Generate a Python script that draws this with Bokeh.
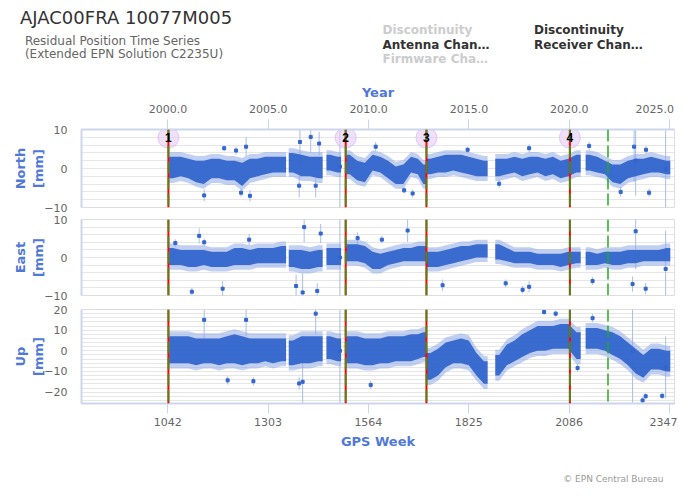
from bokeh.plotting import figure
from bokeh.layouts import column
from bokeh.models import (Range1d, LinearAxis, FixedTicker, SingleIntervalTicker,
                          PrintfTickFormatter, Span, LabelSet, Label, Legend,
                          LegendItem, ColumnDataSource)
from bokeh.embed import file_html
from bokeh.resources import INLINE

# ------------------------------------------------------------------ data
gps_ticks = [1042, 1303, 1564, 1825, 2086, 2347]
year_ticks = [2000, 2005, 2010, 2015, 2020, 2025]
week_min, week_max = 818, 2360

antenna_weeks = [1044, 1505, 1715, 2088]
receiver_weeks = [1044, 1505, 1715, 2088, 2187]
disc_weeks = [1044, 1505, 1715, 2088]
disc_labels = ["1", "2", "3", "4"]

# dense residual band, per time bin (GPS week)
bin_start = [1046, 1066, 1086, 1106, 1126, 1146, 1166, 1186, 1206, 1226, 1246, 1266, 1286, 1306, 1326,
             1357, 1379, 1401, 1423,
             1455, 1474,
             1506, 1525, 1545, 1565, 1585, 1605, 1625, 1645, 1665, 1685, 1700,
             1716, 1735, 1755, 1775, 1795, 1815, 1835, 1855,
             1894, 1914, 1934, 1954, 1974, 1994, 2014, 2034, 2054, 2074, 2094,
             2129, 2149, 2169, 2189, 2209, 2229, 2249, 2269, 2289, 2309, 2329]
bin_end = [1066, 1086, 1106, 1126, 1146, 1166, 1186, 1206, 1226, 1246, 1266, 1286, 1306, 1326, 1350,
           1379, 1401, 1423, 1445,
           1474, 1493,
           1525, 1545, 1565, 1585, 1605, 1625, 1645, 1665, 1685, 1700, 1714,
           1735, 1755, 1775, 1795, 1815, 1835, 1855, 1874,
           1914, 1934, 1954, 1974, 1994, 2014, 2034, 2054, 2074, 2094, 2116,
           2149, 2169, 2189, 2209, 2229, 2249, 2269, 2289, 2309, 2329, 2349]

north_lo = [-2.5, -2.0, -2.5, -3.5, -4.0, -2.5, -2.5, -3.0, -3.0, -4.5, -2.5, -2.0, -1.5, -1.0, -1.0,
            -1.0, -2.0, -2.0, -2.5,
            -0.5, -1.0,
            -1.5, -3.0, -3.5, -0.5, -1.0, -2.5, -4.0, -4.0, -1.0, -1.5, -4.0,
            -1.5, -1.0, -1.0, -0.5, -1.0, -1.5, -2.0, -2.0,
            -2.0, -1.5, -1.0, -2.0, -1.5, -1.0, -2.0, -1.5, -2.5, -2.0, -1.0,
            -0.5, -1.0, -1.5, -3.5, -4.0, -2.5, -2.0, -1.5, -1.0, -1.0, -1.5]
north_hi = [3.0, 3.0, 2.5, 2.0, 2.0, 2.5, 2.5, 2.0, 2.0, 1.5, 2.5, 2.5, 3.0, 3.0, 3.0,
            4.0, 3.5, 3.0, 3.0,
            3.5, 3.0,
            3.5, 2.0, 1.5, 3.5, 3.0, 2.0, 0.5, 1.0, 3.0, 2.5, 1.0,
            2.5, 3.0, 3.5, 3.5, 3.5, 3.0, 2.5, 2.0,
            2.5, 2.5, 3.0, 2.5, 3.0, 3.0, 2.5, 3.0, 2.0, 2.5, 3.5,
            3.5, 3.0, 2.0, 1.0, 1.0, 2.0, 2.5, 2.5, 3.0, 2.5, 2.0]

east_lo = [-2.0, -2.0, -2.5, -2.5, -2.0, -2.5, -2.5, -2.5, -2.0, -2.0, -2.0, -1.5, -1.5, -1.5, -1.5,
           -2.5, -3.0, -3.0, -2.5,
           -2.0, -2.0,
           -1.0, -1.0, -1.5, -3.0, -3.0, -2.0, -1.5, -1.0, -1.0, -1.0, -1.0,
           -2.5, -2.5, -2.0, -1.5, -1.0, -0.5, 0.0, 0.0,
           -0.5, -1.0, -1.5, -1.5, -1.5, -2.0, -2.0, -2.0, -2.5, -2.0, -1.5,
           -2.0, -2.0, -1.5, -2.0, -2.0, -1.5, -1.5, -1.0, -1.0, -1.0, -1.0]
east_hi = [2.5, 2.0, 2.0, 2.0, 2.0, 1.5, 1.5, 1.5, 2.5, 2.5, 2.0, 2.5, 2.5, 2.5, 3.0,
           2.0, 2.0, 1.5, 2.0,
           2.5, 2.5,
           3.5, 3.5, 3.0, 1.5, 1.0, 1.5, 2.0, 2.5, 2.5, 3.0, 3.0,
           1.5, 1.5, 2.0, 2.5, 3.0, 3.0, 3.5, 3.5,
           3.5, 2.5, 1.5, 1.5, 1.5, 1.0, 1.0, 1.0, 1.0, 1.5, 1.5,
           1.5, 1.0, 1.5, 1.5, 1.5, 2.0, 2.0, 2.0, 2.0, 2.0, 2.5]

up_lo = [-6, -6, -6, -7, -6, -6, -7, -6, -6, -7, -6, -6, -5, -6, -5,
         -7, -6, -6, -5,
         -4, -5,
         -6, -6, -7, -7, -6, -6, -5, -5, -5, -4, -3,
         -14, -12, -8, -6, -6, -7, -12, -16,
         -12, -7, -5, -3, -1, 0, 0, 1, 1, 1, -4,
         1, 1, 0, -2, -4, -7, -11, -13, -9, -9, -10]
up_hi = [7, 7, 7, 6, 6, 6, 6, 7, 8, 7, 6, 6, 6, 6, 6,
         5, 7, 7, 7,
         7, 6,
         7, 7, 6, 6, 6, 7, 7, 7, 8, 8, 9,
         -1, 1, 4, 5, 6, 5, -1, -5,
         -2, 3, 5, 8, 10, 12, 12, 12, 13, 13, 9,
         11, 11, 10, 9, 7, 4, 1, -2, 1, 1, 0]

# isolated points with formal errors (week, value mm, error mm)
north_out_w = [1137, 1233, 1256, 1246, 1189, 1220, 1384, 1386, 1414, 1427, 1436, 1490, 1583,
               1657, 1679, 1822, 1904, 1982, 2138, 2220, 2255, 2259, 2286, 2294, 2337]
north_out_v = [-6.9, -6.2, -7.0, 5.6, 5.2, 4.6, -4.4, 6.8, 8.1, -4.4, 6.4, 0.5, 5.6,
               -5.6, -6.4, 4.8, -3.9, 5.2, 5.8, -6.0, 5.6, 2.0, 4.8, -6.2, -0.2]
north_out_e = [1.5, 1.0, 1.5, 2.5, 0.8, 1.0, 3.0, 9.5, 4.0, 3.0, 3.0, 12.0, 1.2,
               0.8, 1.0, 0.8, 1.0, 1.0, 1.0, 1.2, 9.0, 9.0, 1.0, 1.0, 10.0]

east_out_w = [1062, 1105, 1124, 1137, 1185, 1254, 1376, 1393, 1397, 1431, 1440, 1490,
              1536, 1599, 1666, 1757, 1921, 1965, 1982, 2147, 2251, 2259, 2285, 2337]
east_out_v = [3.8, -9.0, 5.7, 4.0, -8.2, 4.7, -7.5, -9.2, 8.0, -8.8, 6.3, 0.0,
              5.1, 4.7, 7.1, -7.3, -6.8, -8.5, -7.7, -6.2, -7.0, 6.9, -8.2, -3.0]
east_out_e = [1.0, 1.0, 2.0, 1.0, 2.0, 1.5, 3.0, 5.0, 4.0, 2.0, 2.5, 12.0,
              1.5, 1.0, 3.0, 1.5, 1.0, 1.0, 1.5, 1.0, 2.0, 10.0, 1.5, 10.0]

up_out_w = [1137, 1198, 1246, 1265, 1384, 1393, 1427, 1490, 1570, 2021, 2051, 2108,
            2147, 2251, 2277, 2285, 2328, 2337]
up_out_v = [15.0, -14.3, 15.0, -14.7, -15.8, -15.0, 18.0, 0.0, -16.5, 18.8, 18.0, -8.3,
            15.8, 0.0, -24.0, -22.0, -21.8, -8.0]
up_out_e = [9.0, 2.0, 8.0, 2.0, 3.0, 20.0, 10.0, 30.0, 2.0, 1.5, 1.5, 2.0,
            2.0, 25.0, 1.5, 1.5, 1.5, 15.0]

# ------------------------------------------------------------------ style
FONT = "DejaVu Sans"
W = 684
LEFT = 81
RIGHT = 10
AXIS_BLUE = "#5078d8"
AXIS_LINE = "#ccd6eb"
GRID = "#e6e6e6"
DOT = "#3366cc"
HALO = "#8ea8e6"
ERR = "#a9bde9"
MARK_Y = 7.9


def year_of(week):
    return 1980 + (5 + 7 * week) / 365.25


xr = Range1d(week_min, week_max)


def segments():
    segs, cur = [], [0]
    for i in range(1, len(bin_start)):
        if bin_start[i] != bin_end[i - 1]:
            segs.append(cur)
            cur = [i]
        else:
            cur.append(i)
    segs.append(cur)
    return segs


def free_figure(height):
    f = figure(width=W, height=height, x_range=Range1d(0, 1), y_range=Range1d(0, 1),
               toolbar_location=None, output_backend="svg", title=None,
               min_border_left=0, min_border_right=0,
               min_border_top=0, min_border_bottom=0,
               x_axis_location=None, y_axis_location=None)
    f.frame_align = False
    f.grid.visible = False
    f.outline_line_color = None
    return f


def panel(height, ylo, yhi, mbt, mbb, label, lo, hi, ow, ov, oe, halo):
    p = figure(width=W, height=height, x_range=xr, y_range=Range1d(ylo, yhi),
               toolbar_location=None, output_backend="svg", title=None,
               min_border_left=LEFT, min_border_right=RIGHT,
               min_border_top=mbt, min_border_bottom=mbb,
               x_axis_location=None)
    p.outline_line_color = "#dddddd"
    p.xgrid.visible = False
    p.ygrid.grid_line_color = GRID
    p.ygrid.minor_grid_line_color = GRID
    ax = p.yaxis[0]
    ax.ticker = SingleIntervalTicker(interval=10, num_minor_ticks=5)
    ax.axis_line_color = AXIS_LINE
    ax.axis_line_width = 2
    ax.major_tick_line_color = None
    ax.minor_tick_line_color = None
    ax.major_tick_out = 0
    ax.major_tick_in = 0
    ax.minor_tick_out = 0
    ax.minor_tick_in = 0
    ax.major_label_text_color = "#666666"
    ax.major_label_text_font = FONT
    ax.major_label_text_font_size = "11px"
    ax.major_label_standoff = 14
    ax.axis_label = label
    ax.axis_label_text_font = FONT
    ax.axis_label_text_font_size = "13px"
    ax.axis_label_text_font_style = "bold"
    ax.axis_label_text_color = AXIS_BLUE
    ax.axis_label_standoff = -5

    # error bars of isolated points
    p.segment(x0=ow, x1=ow, y0=[v - e for v, e in zip(ov, oe)],
              y1=[v + e for v, e in zip(ov, oe)], line_color=ERR, line_width=1)
    # dense band with a lighter, scattered fringe
    for seg in segments():
        xs = [bin_start[seg[0]]] + [(bin_start[i] + bin_end[i]) / 2 for i in seg] + [bin_end[seg[-1]]]
        y1 = [lo[seg[0]]] + [lo[i] for i in seg] + [lo[seg[-1]]]
        y2 = [hi[seg[0]]] + [hi[i] for i in seg] + [hi[seg[-1]]]
        p.varea(x=xs, y1=[v - halo for v in y1], y2=[v + halo for v in y2],
                fill_color=HALO, fill_alpha=0.55)
        p.varea(x=xs, y1=y1, y2=y2, fill_color=DOT, fill_alpha=0.95)
    p.scatter(x=ow, y=ov, marker="square", size=3, fill_color=DOT, line_color=DOT)

    for w in antenna_weeks:
        p.add_layout(Span(location=w, dimension="height", line_color="#ff0000", line_width=2))
    for w in receiver_weeks:
        p.add_layout(Span(location=w, dimension="height", line_color="#22aa22",
                          line_width=2, line_dash="12 4", line_alpha=0.75))
    return p


# ------------------------------------------------------------------ header
HH = 76
hd = free_figure(HH)
hd.add_layout(Label(x=19.5, y=HH - 17.3, x_units="screen", y_units="screen",
                    text="AJAC00FRA 10077M005", text_font=FONT, text_font_size="18px",
                    text_color="#333333", text_baseline="middle"))
hd.add_layout(Label(x=24.4, y=HH - 40.2, x_units="screen", y_units="screen",
                    text="Residual Position Time Series", text_font=FONT,
                    text_font_size="12px", text_color="#666666", text_baseline="middle"))
hd.add_layout(Label(x=24.4, y=HH - 53.7, x_units="screen", y_units="screen",
                    text="(Extended EPN Solution C2235U)", text_font=FONT,
                    text_font_size="12px", text_color="#666666", text_baseline="middle"))

r_disc_line = hd.line(x=[], y=[], line_color="#e0e0e0", line_width=2)
r_ant = hd.line(x=[], y=[], line_color="#ff0000", line_width=2)
r_fw = hd.line(x=[], y=[], line_color="#d8d8d8", line_width=2, line_dash="5 3")
r_disc_pt = hd.scatter(x=[], y=[], size=6, fill_color="#e2c8f5", line_color=None)
r_rec = hd.line(x=[], y=[], line_color="#33bb33", line_width=2)


def add_legend(label, renderer, x, y, color):
    lg = Legend(items=[LegendItem(label=label, renderers=[renderer])],
                location=(x, y), orientation="vertical",
                label_text_font=FONT, label_text_font_size="12px",
                label_text_font_style="bold", label_text_color=color,
                glyph_width=16, glyph_height=15, label_height=15, label_standoff=5,
                spacing=0, padding=0, margin=0, border_line_color=None,
                background_fill_alpha=0)
    hd.add_layout(lg)


C1 = 361.5
C2 = 513
add_legend("Discontinuity", r_disc_line, C1, HH - 37.5, "#cccccc")
add_legend("Antenna Chan\u2026", r_ant, C1, HH - 52.0, "#333333")
add_legend("Firmware Cha\u2026", r_fw, C1, HH - 66.5, "#cccccc")
add_legend("Discontinuity", r_disc_pt, C2, HH - 37.5, "#333333")
add_legend("Receiver Chan\u2026", r_rec, C2, HH - 52.0, "#333333")

# ------------------------------------------------------------------ panels
pn = panel(137, -10, 10, 53, 6, "North\n[mm]", north_lo, north_hi,
           north_out_w, north_out_v, north_out_e, 1.2)
pe = panel(89, -10, 10, 6, 7, "East\n[mm]", east_lo, east_hi,
           east_out_w, east_out_v, east_out_e, 1.2)
pu = panel(156, -25.5, 20, 7, 55, "Up\n[mm]", up_lo, up_hi,
           up_out_w, up_out_v, up_out_e, 2.5)

# discontinuity markers
dsrc = ColumnDataSource(dict(x=disc_weeks, y=[MARK_Y] * len(disc_weeks), t=disc_labels))
pn.scatter(x="x", y="y", source=dsrc, size=21, fill_color="#e6ccf7", fill_alpha=0.6,
           line_color="#d9b8f0", line_alpha=0.7)
pn.add_layout(LabelSet(x="x", y="y", text="t", source=dsrc, text_align="center",
                       text_baseline="middle", text_font_size="12px",
                       text_font_style="bold", text_color="#000000"))


def style_x_axis(a, standoff, label_standoff):
    a.axis_line_color = AXIS_LINE
    a.axis_line_width = 2
    a.major_tick_line_color = AXIS_LINE
    a.major_tick_out = 10
    a.major_tick_in = 0
    a.minor_tick_line_color = None
    a.minor_tick_out = 0
    a.minor_tick_in = 0
    a.major_label_standoff = standoff
    a.major_label_text_color = "#666666"
    a.major_label_text_font = FONT
    a.major_label_text_font_size = "11px"
    a.axis_label_text_font = FONT
    a.axis_label_text_font_size = "13px"
    a.axis_label_text_font_style = "bold"
    a.axis_label_text_color = AXIS_BLUE
    a.axis_label_standoff = label_standoff


# top axis (years)
pn.extra_x_ranges = {"year": Range1d(year_of(week_min), year_of(week_max))}
top = LinearAxis(x_range_name="year", ticker=FixedTicker(ticks=year_ticks),
                 formatter=PrintfTickFormatter(format="%.1f"), axis_label="Year")
top.major_label_overrides = {2025: "2025.0" + "\u00a0" * 3}
style_x_axis(top, 4, 0)
pn.add_layout(top, "above")

bot = LinearAxis(ticker=FixedTicker(ticks=gps_ticks), axis_label="GPS Week")
bot.major_label_overrides = {2347: "2347" + "\u00a0" * 2}
style_x_axis(bot, 2, 2)
pu.add_layout(bot, "below")

# ------------------------------------------------------------------ footer (credits)
FH = 30
ft = free_figure(FH)
ft.add_layout(Label(x=663, y=FH - 20, x_units="screen", y_units="screen",
                    text="\u00a9 EPN Central Bureau", text_font=FONT, text_font_size="9px",
                    text_color="#999999", text_align="right", text_baseline="middle"))

layout = column(hd, pn, pe, pu, ft, spacing=0)

html = file_html(layout, INLINE, title="AJAC00FRA 10077M005")
open("out.html", "w").write(html)
